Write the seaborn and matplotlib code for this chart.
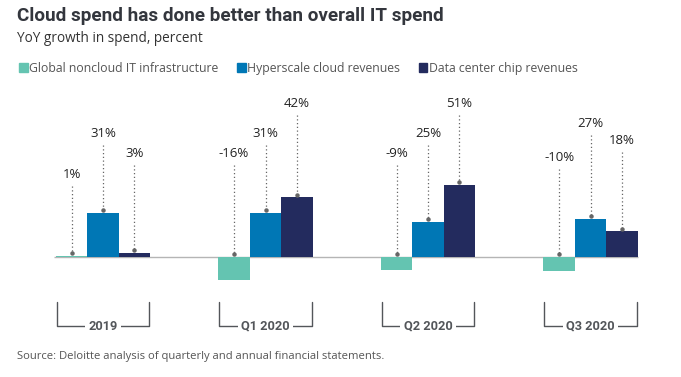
"""
Grouped bar chart: YoY growth in cloud vs noncloud IT spend
"""
import pandas as pd
import matplotlib.pyplot as plt
import seaborn as sns
import numpy as np

# Data
periods = ["2019", "Q1 2020", "Q2 2020", "Q3 2020"]
series = ["Global noncloud IT infrastructure", "Hyperscale cloud revenues", "Data center chip revenues"]
noncloud = [1, -16, -9, -10]
hyperscale = [31, 31, 25, 27]
chips = [3, 42, 51, 18]

# Label heights (layout only, in data units) for each series per period
label_y = {
    series[0]: [58, 73, 73, 70],
    series[1]: [87, 87, 87, 94],
    series[2]: [73, 108, 108, 82],
}

colors = ["#64C4B1", "#0077B5", "#232B5E"]

df = pd.DataFrame({
    "period": periods * 3,
    "series": [s for s in series for _ in periods],
    "value": noncloud + hyperscale + chips,
})

sns.set_style("white")
plt.rcParams["font.family"] = ["Open Sans", "DejaVu Sans"]
narrow = ["Roboto", "DejaVu Sans"]

fig = plt.figure(figsize=(6.81, 3.77), dpi=100)
ax = fig.add_axes([0, 0, 1, 1])

bar_w = 0.58
sns.barplot(data=df, x="period", y="value", hue="series", order=periods, hue_order=series,
            palette=colors, width=bar_w, saturation=1, linewidth=0, ax=ax, legend=False)

# pixel mapping: group center 0 at x=103px, 162.5px per group; baseline at y=257px, 1.42px per %
ax.set_xlim(-103 / 162.5, (681 - 103) / 162.5)
ax.set_ylim((257 - 377) / 1.42, 257 / 1.42)
ax.axis("off")

# baseline
ax.hlines(0, -0.3, 3.29, color="#b5b5b5", lw=1, zorder=0)

# leader lines and labels
step = bar_w / 3
for j, s in enumerate(series):
    vals = df[df["series"] == s]["value"].tolist()
    for i, v in enumerate(vals):
        x = i - bar_w / 2 + step * (j + 0.5)
        top = max(v, 0) + 2
        ly = label_y[s][i]
        ax.plot([x, x], [ly - 8, top], ls=(0, (1, 2)), color="#666666", lw=0.9)
        ax.plot(x, top, "o", ms=2.2, color="#666666")
        ax.text(x, ly, f"{v}%", ha="center", va="center", fontsize=9.5, color="#222222")

# category brackets
y1, y2 = (257 - 302) / 1.42, (257 - 326) / 1.42
for i, p in enumerate(periods):
    l, r = i - 0.285, i + 0.285
    ax.plot([l, l, r, r], [y1, y2, y2, y1], color="#53565A", lw=1)
    ax.text(i, y2, p, ha="center", va="center", fontsize=9.2, fontweight="bold",
            color="#53565A", family=narrow,
            bbox=dict(facecolor="white", edgecolor="none", pad=2.5))

# legend
handles = [plt.Rectangle((0, 0), 1, 1, color=c) for c in colors]
fig.legend(handles, series, loc="upper left", bbox_to_anchor=(19 / 681, 1 - 62 / 377), ncol=3,
           frameon=False, fontsize=8.8, handlelength=0.7, handleheight=0.7, handletextpad=0.15,
           columnspacing=1.5, borderaxespad=0, borderpad=0, labelcolor="#555555")

# titles and source
fig.text(17 / 681, 1 - 16 / 377, "Cloud spend has done better than overall IT spend", fontsize=13.6,
         fontweight="bold", color="#33363d", va="center", family=narrow)
fig.text(17 / 681, 1 - 39 / 377, "YoY growth in spend, percent", fontsize=9.8, color="#333333", va="center")
fig.text(17 / 681, 1 - 356 / 377, "Source: Deloitte analysis of quarterly and annual financial statements.",
         fontsize=8.1, color="#555555", va="center")

plt.savefig("out.png", dpi=100)
